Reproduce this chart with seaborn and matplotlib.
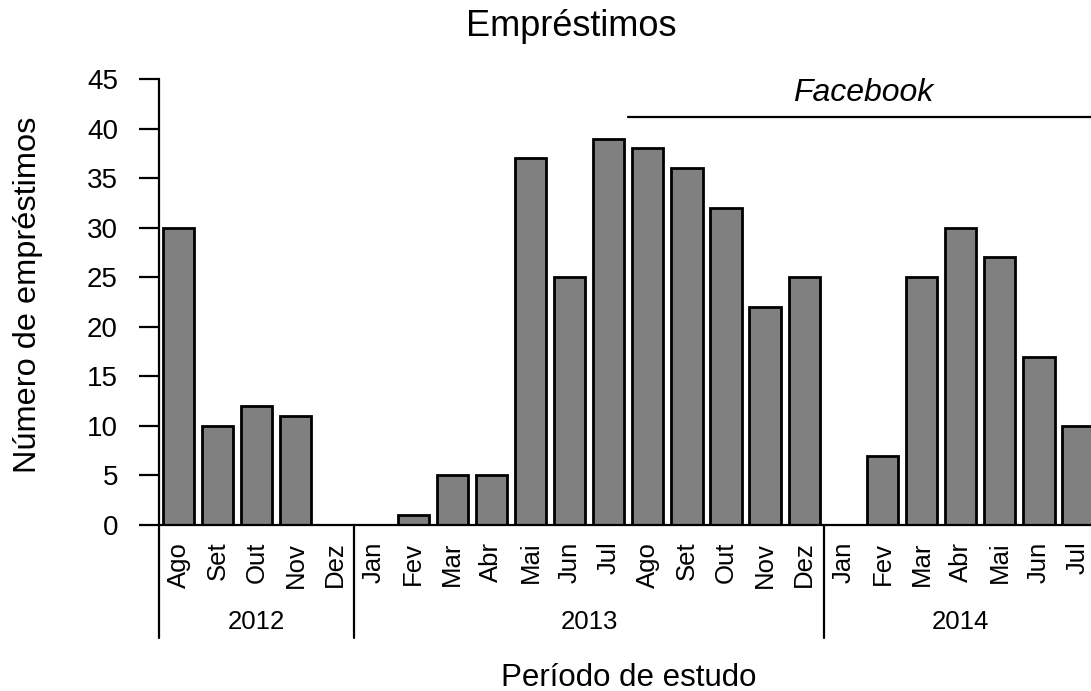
import matplotlib
import pandas as pd
import seaborn as sns
from matplotlib import pyplot as plt

matplotlib.use("Agg")

# monthly loans, Aug 2012 .. Jul 2014
months = [
    "Ago", "Set", "Out", "Nov", "Dez",
    "Jan", "Fev", "Mar", "Abr", "Mai", "Jun", "Jul",
    "Ago", "Set", "Out", "Nov", "Dez",
    "Jan", "Fev", "Mar", "Abr", "Mai", "Jun", "Jul",
]
years = [2012] * 5 + [2013] * 12 + [2014] * 7
loans = [30, 10, 12, 11, 0, 0, 1, 5, 5, 37, 25, 39,
         38, 36, 32, 22, 25, 0, 7, 25, 30, 27, 17, 10]

facebook_start = 12  # index of Ago 2013
facebook_label = "Facebook"

df = pd.DataFrame({"month": months, "year": years, "loans": loans})
df["period"] = df["month"] + " " + df["year"].astype(str)

sns.set_style("white")
plt.rcParams["font.family"] = ["Liberation Sans", "DejaVu Sans"]
plt.rcParams["text.color"] = "black"
plt.rcParams["axes.labelcolor"] = "black"
plt.rcParams["xtick.color"] = "black"
plt.rcParams["ytick.color"] = "black"

fig = plt.figure(figsize=(10.91, 6.91), dpi=100)
ax = fig.add_axes([0.1457, 0.2402, 0.8603, 0.6454])

sns.barplot(
    data=df,
    x="period",
    y="loans",
    order=df["period"].tolist(),
    color="#808080",
    saturation=1,
    edgecolor="black",
    linewidth=2,
    width=0.8,
    ax=ax,
)

n = len(df)
ax.set_xlim(-0.5, n - 0.5)
ax.set_ylim(0, 45)
ax.set_yticks(range(0, 46, 5))
ax.set_xticks(range(n))
ax.set_xticklabels(df["month"], rotation=90, fontsize=18.5)
ax.tick_params(axis="x", length=0, pad=12)
ax.tick_params(axis="y", length=14.5, width=1.6, pad=15, labelsize=20,
               direction="out", left=True)

sns.despine(ax=ax, top=True, right=True)
ax.spines["left"].set_bounds(0, 45)
for sp in ("left", "bottom"):
    ax.spines[sp].set_linewidth(1.6)
    ax.spines[sp].set_color("black")

# year groups below the month labels
trans = ax.get_xaxis_transform()
pos = 0
for yr, grp in df.groupby("year"):
    start = pos
    end = pos + len(grp) - 1
    ax.plot([start - 0.5, start - 0.5], [0, -0.253], transform=trans,
            color="black", lw=1.6, clip_on=False)
    ax.text((start + end) / 2, -0.2175, str(yr), transform=trans,
            ha="center", va="center", fontsize=18.5)
    pos = end + 1

# Facebook period marker
ax.plot([facebook_start - 0.5, n + 1], [41.2, 41.2], color="black", lw=1.6,
        clip_on=False)
ax.text((facebook_start - 0.5 + n - 0.5) / 2, 43.6, facebook_label,
        style="italic", ha="center", va="center", fontsize=23)

ax.set_xlabel("Período de estudo", fontsize=22.5)
ax.xaxis.set_label_coords(0.5, -0.309)
ax.set_ylabel("Número de empréstimos", fontsize=23.4)
ax.yaxis.set_label_coords(-0.124, 0.516)

fig.text(571 / 1091, 1 - 27 / 691, "Empréstimos", ha="center", va="center",
         fontsize=26)

fig.savefig("out.png", dpi=100)
